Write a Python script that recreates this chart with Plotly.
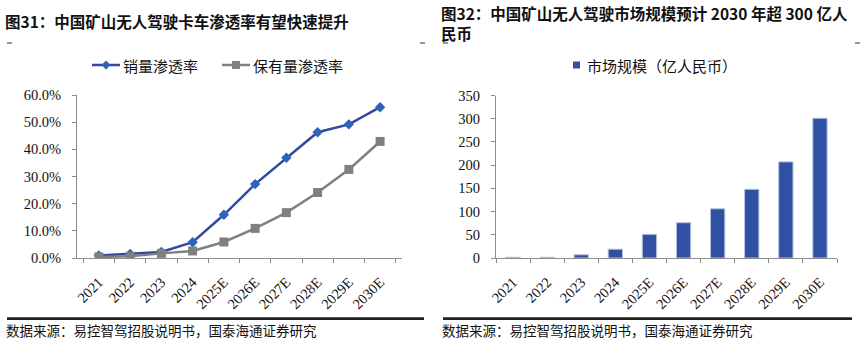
import plotly.graph_objects as go

years = ["2021", "2022", "2023", "2024", "2025E", "2026E", "2027E", "2028E", "2029E", "2030E"]
sales_pen = [0.9, 1.5, 2.2, 5.8, 15.9, 27.2, 36.9, 46.3, 49.2, 55.5]
fleet_pen = [0.4, 0.6, 1.7, 2.6, 5.9, 10.9, 16.7, 24.1, 32.6, 42.9]
market = [1.5, 1.5, 7, 19, 51, 76, 106, 148, 207, 301]

left_title = "图31：中国矿山无人驾驶卡车渗透率有望快速提升"
right_title = "图32：中国矿山无人驾驶市场规模预计 2030 年超 300 亿人<br>民币"
source = "数据来源：易控智驾招股说明书，国泰海通证券研究"
legend_names = ["销量渗透率", "保有量渗透率", "市场规模（亿人民币）"]

W, H = 862, 340
def px(x): return x / W
def py(y): return 1 - y / H

serif = "Liberation Serif, Times New Roman, serif"
cjk = "Noto Sans CJK SC, sans-serif"
axis_col = "#8c8c8c"
blue_line = "#3548A0"
blue_mark = "#2E63B8"
gray = "#808080"
bar_col = "#3050A4"

fig = go.Figure()
fig.add_trace(go.Scatter(
    x=years, y=sales_pen, name=legend_names[0], mode="lines+markers",
    line=dict(color=blue_line, width=2.5),
    marker=dict(symbol="diamond", size=8, color=blue_mark),
    xaxis="x", yaxis="y"))
fig.add_trace(go.Scatter(
    x=years, y=fleet_pen, name=legend_names[1], mode="lines+markers",
    line=dict(color=gray, width=2.5),
    marker=dict(symbol="square", size=9, color=gray),
    xaxis="x", yaxis="y"))
fig.add_trace(go.Bar(
    x=years, y=market, name=legend_names[2],
    marker=dict(color=bar_col, line=dict(color="#B8C2E0", width=1)),
    xaxis="x2", yaxis="y2"))
# empty traces that hold the two rule-line axes under the charts
fig.add_trace(go.Scatter(x=[], y=[], xaxis="x3", yaxis="y3", hoverinfo="skip"))
fig.add_trace(go.Scatter(x=[], y=[], xaxis="x4", yaxis="y4", hoverinfo="skip"))

common_x = dict(type="category", tickson="boundaries", ticks="outside", ticklen=4,
                tickcolor=axis_col, showline=True, linecolor=axis_col, linewidth=1,
                showgrid=False, tickangle=-45, tickfont=dict(family=serif, size=14.5, color="#111"),
                zeroline=False, automargin=False, ticklabelstandoff=9)
common_y = dict(ticks="outside", ticklen=4, tickcolor=axis_col, showline=True,
                linecolor=axis_col, linewidth=1, showgrid=False, zeroline=False,
                tickfont=dict(family=serif, size=14.5, color="#111"),
                automargin=False, ticklabelstandoff=8)
rule_x = dict(showline=True, linecolor="#222", linewidth=1.5, showticklabels=False, ticks="",
              showgrid=False, zeroline=False, range=[0, 1], fixedrange=True, automargin=False)
rule_y = dict(visible=False, showgrid=False, zeroline=False, range=[0, 1], fixedrange=True,
              automargin=False)

fig.update_layout(
    width=W, height=H, margin=dict(l=0, r=0, t=0, b=0, pad=0, autoexpand=False),
    paper_bgcolor="white", plot_bgcolor="rgba(0,0,0,0)",
    showlegend=False, bargap=0.58,
    xaxis=dict(domain=[px(77), px(402)], anchor="y", **common_x),
    yaxis=dict(domain=[py(258), py(95)], anchor="x", range=[0, 60], dtick=10,
               tickformat=".1f", ticksuffix="%", **common_y),
    xaxis2=dict(domain=[px(496), px(837)], anchor="y2", **common_x),
    yaxis2=dict(domain=[py(258), py(95.5)], anchor="x2", range=[0, 350], dtick=50, **common_y),
    xaxis3=dict(domain=[px(7), px(424)], anchor="y3", **rule_x),
    yaxis3=dict(domain=[py(318), py(316)], anchor="x3", **rule_y),
    xaxis4=dict(domain=[px(443), px(852)], anchor="y4", **rule_x),
    yaxis4=dict(domain=[py(318), py(316)], anchor="x4", **rule_y),
)

ann = []
def text(x, y, s, size, bold=False, anchor="left", yanchor="middle", color="#111"):
    ann.append(dict(x=px(x), y=py(y), xref="paper", yref="paper", text=("<b>%s</b>" % s) if bold else s,
                    showarrow=False, xanchor=anchor, yanchor=yanchor, align="left",
                    borderpad=0, font=dict(family=cjk, size=size, color=color)))

text(4, 21, left_title, 15.5, bold=True)
text(440, 1, right_title, 15.5, bold=True, yanchor="top")
text(5, 329.5, source, 13.5)
text(441, 329.5, source, 13.5)

# legends
text(122, 65, legend_names[0], 15)
text(252, 65, legend_names[1], 15)
text(586, 65, legend_names[2], 15)
fig.update_layout(annotations=ann)

shapes = []
def rect(x0, y0, x1, y1, color):
    shapes.append(dict(type="rect", xref="paper", yref="paper", x0=px(x0), x1=px(x1),
                       y0=py(y1), y1=py(y0), fillcolor=color, line=dict(width=0), layer="above"))
def line(x0, y0, x1, y1, color, w):
    shapes.append(dict(type="line", xref="paper", yref="paper", x0=px(x0), y0=py(y0),
                       x1=px(x1), y1=py(y1), line=dict(color=color, width=w)))
# rules under charts (also drawn as shapes) and small title-frame marks
line(7, 318, 424, 318, "#222222", 1.5)
line(443, 318, 852, 318, "#222222", 1.5)
rect(7, 42.5, 12, 43.5, "#333")
rect(420, 42.5, 425, 43.5, "#333")
rect(443, 42.5, 448, 43.5, "#333")
rect(855, 42.5, 860, 43.5, "#333")
# legend samples
line(92, 65, 120, 65, blue_line, 2.5)
line(222, 65, 250, 65, gray, 2.5)
rect(573, 61.5, 580, 68.5, bar_col)
rect(232, 61, 240, 69, gray)
cx, cy, r = 106, 65, 4.5
shapes.append(dict(type="path", xref="paper", yref="paper",
                   path="M %f %f L %f %f L %f %f L %f %f Z" % (
                       px(cx), py(cy - r), px(cx + r), py(cy), px(cx), py(cy + r), px(cx - r), py(cy)),
                   fillcolor=blue_mark, line=dict(width=0)))
fig.update_layout(shapes=shapes)

fig.write_html("out.html")
